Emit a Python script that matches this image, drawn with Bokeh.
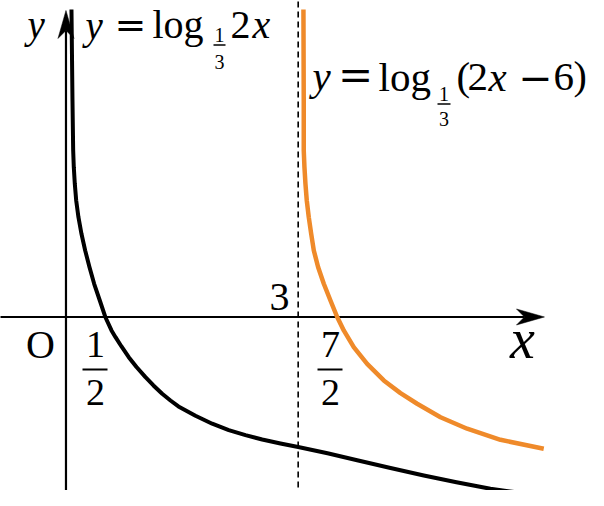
from bokeh.plotting import figure
from bokeh.models import Label, BoxAnnotation, Range1d
from bokeh.embed import file_html
from bokeh.resources import INLINE

# ---- data ----
black_x = [0.071, 0.084, 0.093, 0.101, 0.114, 0.132, 0.161, 0.200, 0.248, 0.304, 0.364, 0.437,
           0.508, 0.588, 0.640, 0.717, 0.811, 0.911, 1.027, 1.130, 1.243, 1.350, 1.453, 1.673,
           1.889, 2.103, 2.319, 2.535, 2.771, 3.0, 3.379, 3.762, 4.193, 4.623, 5.045, 5.484, 6.173]
black_y = [3.973, 2.797, 2.151, 1.935, 1.721, 1.505, 1.289, 1.075, 0.859, 0.643, 0.429, 0.213,
           0.0, -0.174, -0.261, -0.381, -0.519, -0.646, -0.778, -0.885, -0.992, -1.079, -1.156, -1.276,
           -1.379, -1.461, -1.526, -1.583, -1.634, -1.680, -1.761, -1.851, -1.951, -2.048, -2.136, -2.220, -2.313]
orange_x = [3.068, 3.072, 3.072, 3.081, 3.094, 3.111, 3.137, 3.168, 3.202, 3.258, 3.331, 3.417,
            3.504, 3.589, 3.718, 3.891, 4.106, 4.322, 4.537, 4.839, 5.183, 5.614, 6.173]
orange_y = [3.973, 2.797, 2.151, 1.935, 1.721, 1.505, 1.289, 1.075, 0.859, 0.643, 0.429, 0.213,
            0.0, -0.174, -0.390, -0.605, -0.820, -0.984, -1.121, -1.295, -1.444, -1.587, -1.703]
asymptote_x = 3.0
tick_origin = "O"
tick_half = ("1", "2")
tick_seven_half = ("7", "2")
tick_three = "3"

# ---- geometry ----
W, H = 588, 490
x0, x1 = -0.846, 6.751
y0, y1 = -2.242, 4.089
ux = (x1 - x0) / W      # data units per pixel (x)
uy = (y1 - y0) / H      # data units per pixel (y)

p = figure(width=W, height=H, x_range=Range1d(x0, x1), y_range=Range1d(y0, y1),
           output_backend="svg", toolbar_location=None, min_border=0,
           x_axis_location=None, y_axis_location=None)
p.grid.visible = False
p.outline_line_color = None
p.background_fill_color = "white"
p.border_fill_color = "white"

# axes
x_axis_end = 6.182
y_axis_end = 3.96
y_axis_bottom = -2.332
p.segment(x0=[x0 - 0.2], y0=[0], x1=[x_axis_end - 20 * ux], y1=[0], line_color="black", line_width=2.2)
p.segment(x0=[0], y0=[y_axis_bottom], x1=[0], y1=[y_axis_end - 20 * uy], line_color="black", line_width=2.2)
L, Wd, N = 28, 8, 20
p.patch([x_axis_end, x_axis_end - L * ux, x_axis_end - N * ux, x_axis_end - L * ux],
        [0, Wd * uy, 0, -Wd * uy], color="black", line_width=0.5)
p.patch([0, Wd * ux, 0, -Wd * ux],
        [y_axis_end, y_axis_end - L * uy, y_axis_end - N * uy, y_axis_end - L * uy],
        color="black", line_width=0.5)

# asymptote
p.segment(x0=[asymptote_x], y0=[y_axis_bottom], x1=[asymptote_x], y1=[y1 + 0.1],
          line_color="black", line_width=1.6, line_dash="6 4")

# curves
p.line(black_x, black_y, line_color="black", line_width=4, line_join="round")
p.line(orange_x, orange_y, line_color="#EF8A2A", line_width=4.5, line_join="round")

SHIFT = 0.34  # empirical baseline correction (em)


def lab(text, px, py, size, italic=False, font="Liberation Serif", align="left"):
    p.add_layout(Label(x=px, y=H - (py - SHIFT * size), x_units="screen", y_units="screen",
                       text=text, text_font=font, text_font_size=f"{size}px",
                       text_font_style="italic" if italic else "normal",
                       text_align=align, text_baseline="alphabetic", text_color="black"))


def bar(xa, xb, py, th=2.0):
    p.add_layout(BoxAnnotation(left=xa, right=xb, top=H - py + th / 2, bottom=H - py - th / 2,
                               left_units="screen", right_units="screen",
                               top_units="screen", bottom_units="screen",
                               fill_color="black", fill_alpha=1, line_color=None))


# axis labels
lab("y", 27, 37, 39, italic=True)
lab("x", 522, 358, 56, italic=True, align="center")
lab(tick_origin, 40, 358, 40, align="center")
# 1/2
lab(tick_half[0], 95, 357, 38, align="center")
bar(82, 107, 369)
lab(tick_half[1], 95, 405, 38, align="center")
# 7/2
lab(tick_seven_half[0], 330, 357, 38, align="center")
bar(317, 342, 369)
lab(tick_seven_half[1], 330, 405, 38, align="center")
# 3
lab(tick_three, 279, 310, 40, align="center")

# y = log_{1/3} 2x
lab("y", 85, 38, 39, italic=True)
lab("=", 130, 37, 38, font="DejaVu Serif", align="center")
lab("log", 152, 38, 40)
lab("1", 219, 41, 20, align="center")
bar(213, 225, 44.5, 1.5)
lab("3", 219, 68, 20, align="center")
lab("2", 230, 38, 40)
lab("x", 252, 38, 40, italic=True)

# y = log_{1/3}(2x - 6)
lab("y", 312, 89, 41, italic=True)
lab("=", 355, 89, 42, font="DejaVu Serif", align="center")
lab("log", 378, 90, 41)
lab("1", 443.5, 100, 20, align="center")
bar(437, 450, 103.5, 1.5)
lab("3", 443.5, 125, 20, align="center")
lab("(", 456, 89, 41)
lab("2", 467, 90, 41)
lab("x", 488, 90, 41, italic=True)
lab("\u2212", 535, 90, 41, font="DejaVu Serif", align="center")
lab("6", 553, 90, 41)
lab(")", 573, 89, 40)

open("out.html", "w").write(file_html(p, INLINE))
